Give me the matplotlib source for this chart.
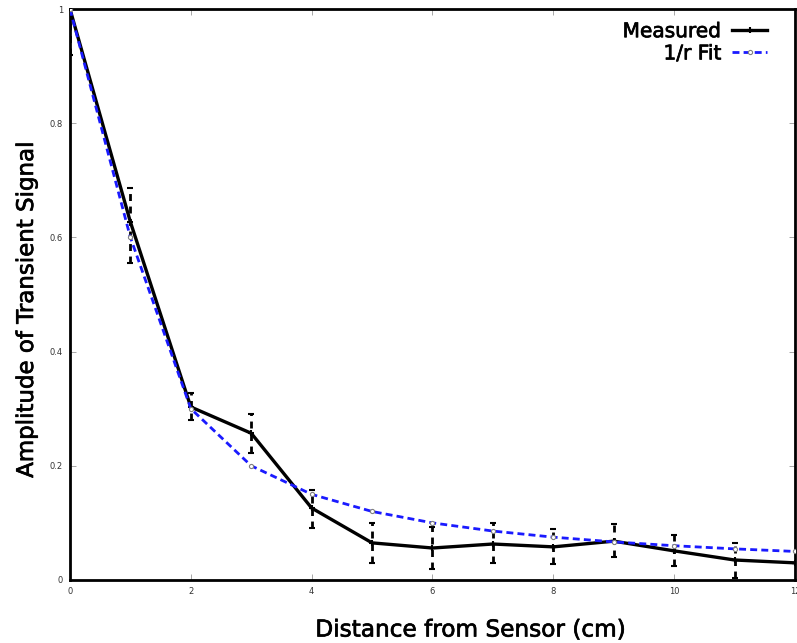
import numpy as np
import matplotlib
matplotlib.use('Agg')
import matplotlib.pyplot as plt
import matplotlib.patheffects as pe

# Data
distance = [0, 1, 2, 3, 4, 5, 6, 7, 8, 9, 10, 11, 12]
measured = [1.0, 0.627, 0.303, 0.257, 0.126, 0.065, 0.056, 0.063, 0.058, 0.068, 0.051, 0.035, 0.030]
err_low = [0.08, 0.072, 0.023, 0.035, 0.035, 0.035, 0.036, 0.033, 0.030, 0.028, 0.026, 0.031, 0.0]
err_high = [0.0, 0.059, 0.024, 0.033, 0.032, 0.035, 0.037, 0.037, 0.031, 0.030, 0.028, 0.030, 0.0]
fit = [1.0, 0.6, 0.3, 0.2, 0.15, 0.12, 0.1, 0.0857, 0.075, 0.0667, 0.06, 0.0545, 0.05]

x_ticks = [0, 2, 4, 6, 8, 10, 12]
y_ticks = [0, 0.2, 0.4, 0.6, 0.8, 1.0]
y_tick_labels = ['0', '0.2', '0.4', '0.6', '0.8', '1']

heavy = [pe.withStroke(linewidth=0.5, foreground='black')]

fig = plt.figure(figsize=(7.97, 6.43), dpi=100)
ax = fig.add_axes([0.0878, 0.098, 0.9097, 0.888])

# error bars (dashed, capped)
eb = ax.errorbar(distance, measured, yerr=[err_low, err_high], fmt='none',
                 ecolor='black', elinewidth=2.0, capsize=2.5, capthick=1.5, zorder=2)
eb[2][0].set_linestyle((0, (2.5, 2.0)))

ax.plot(distance, measured, color='black', linewidth=2.4, marker='+',
        markersize=4, markeredgewidth=1.5, label='Measured', zorder=3)
ax.plot(distance, fit, color='#1a1aff', linewidth=2.0, linestyle=(0, (2.5, 1.5)),
        marker='o', markersize=3, markerfacecolor='white', markeredgecolor='grey',
        markeredgewidth=0.8, label='1/r Fit', zorder=4)

ax.set_xlim(0, 12)
ax.set_ylim(0, 1)
ax.set_xticks(x_ticks)
ax.set_yticks(y_ticks)
ax.set_yticklabels(y_tick_labels)
ax.tick_params(direction='in', length=4, width=0.6, color='#999999',
               labelsize=6, labelcolor='#333333', top=True, right=True, pad=5)

for side in ['left', 'bottom', 'top', 'right']:
    ax.spines[side].set_linewidth(2.0)

xl = ax.set_xlabel('Distance from Sensor (cm)', fontsize=16.7, va='center')
yl = ax.set_ylabel('Amplitude of Transient Signal', fontsize=16.5, va='center')
ax.xaxis.set_label_coords(0.552, -0.0876)
ax.yaxis.set_label_coords(-0.06, 0.473)
xl.set_path_effects(heavy)
yl.set_path_effects(heavy)

leg = ax.legend(loc='upper right', bbox_to_anchor=(0.972, 0.991), frameon=False,
                fontsize=14.5, markerfirst=False, handlelength=1.7, handletextpad=0.55,
                borderaxespad=0, labelspacing=0.16)
for t in leg.get_texts():
    t.set_path_effects(heavy)

fig.savefig('out.png', dpi=100)
